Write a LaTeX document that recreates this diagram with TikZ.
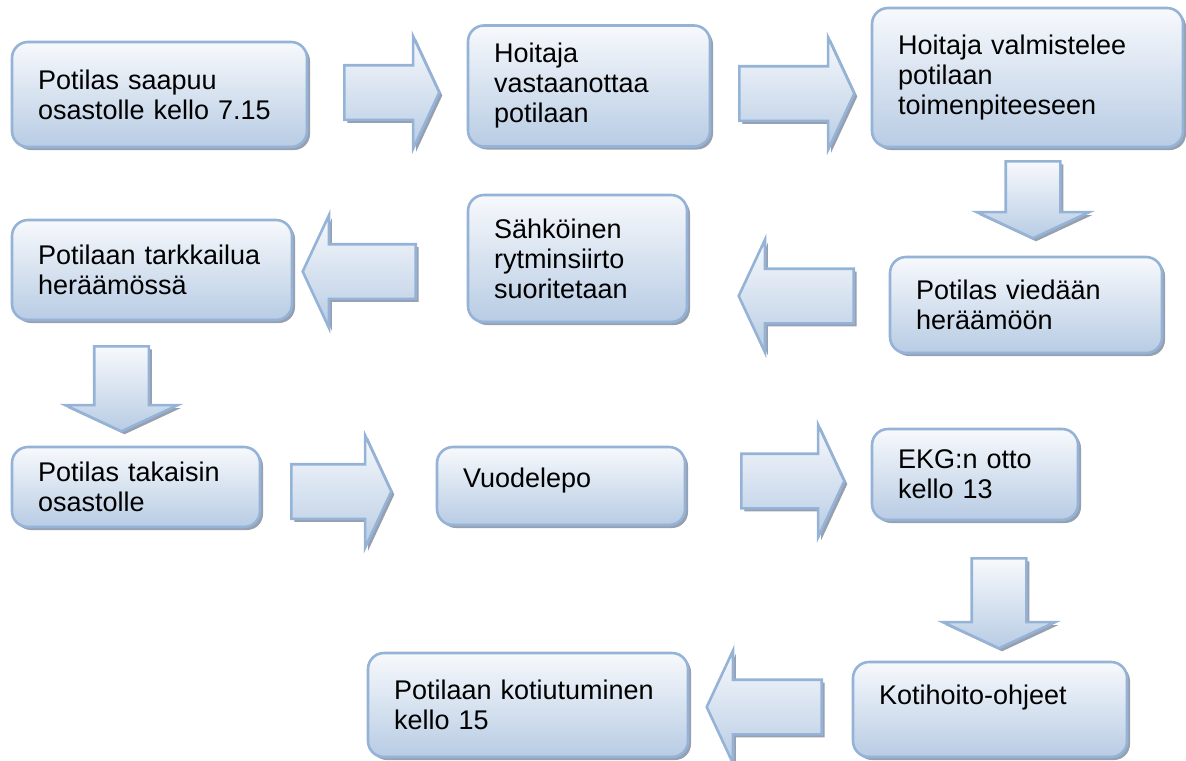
\documentclass[tikz,border=0pt]{standalone}
\usepackage{fontspec}
\setmainfont{Liberation Sans}
\usepackage{tikz}
\usetikzlibrary{shapes.arrows, shadows, positioning}
\definecolor{boxline}{RGB}{149,179,215}
\definecolor{boxtop}{RGB}{247,249,252}
\definecolor{boxbottom}{RGB}{184,204,228}
\definecolor{shadowgray}{RGB}{150,160,176}

\begin{document}
\begin{tikzpicture}[x=0.5pt, y=-0.5pt, boxnode/.style={rectangle, rounded corners=8pt, draw=boxline, line width=1.3pt, top color=boxtop, bottom color=boxbottom, drop shadow={shadow xshift=1.5pt, shadow yshift=-1.5pt, fill=shadowgray, opacity=1}, align=left, inner xsep=13pt, inner ysep=0pt, font=\fontsize{13.5}{15}\selectfont}, blockarrow/.style={single arrow, anchor=tail, draw=boxline, line width=1.3pt, top color=boxtop, bottom color=boxbottom, drop shadow={shadow xshift=1.5pt, shadow yshift=-1.5pt, fill=shadowgray, opacity=1}, inner sep=13pt, minimum width=55pt, single arrow head extend=14.5pt, single arrow tip angle=130}]
    \useasboundingbox (0,0) rectangle (1186,760);

    %Nodes
    \node[boxnode, text width=121.5pt, minimum height=52.5pt](start) at (159.5,94.5){Potilas saapuu\\osastolle kello 7.15};
    \node[boxnode, text width=95pt, minimum height=60.5pt](receive) at (589,86){Hoitaja\\vastaanottaa\\potilaan};
    \node[boxnode, text width=129.5pt, minimum height=69.5pt](prepare) at (1027.5,77.5){Hoitaja valmistelee\\potilaan\\toimenpiteeseen};
    \node[boxnode, text width=110pt, minimum height=48pt](recovery) at (1026,305){Potilas viedään\\heräämöön};
    \node[boxnode, text width=83.5pt, minimum height=63.5pt](cardioversion) at (577.5,258.5){Sähköinen\\rytminsiirto\\suoritetaan};
    \node[boxnode, text width=114pt, minimum height=50pt](observe) at (152,270){Potilaan tarkkailua\\heräämössä};
    \node[boxnode, text width=98pt, minimum height=40pt](back) at (136,487){Potilas takaisin\\osastolle};
    \node[boxnode, text width=98pt, minimum height=39pt](bedrest) at (561,486){Vuodelepo\\[-7pt]\mbox{}};
    \node[boxnode, text width=77pt, minimum height=45.5pt](ekg) at (975,474.5){EKG:n otto\\kello 13};
    \node[boxnode, text width=111pt, minimum height=47.5pt](homecare) at (990,709.5){Kotihoito-ohjeet\\\mbox{}};
    \node[boxnode, text width=134pt, minimum height=52pt](discharge) at (528,705){Potilaan kotiutuminen\\kello 15};

    %Arrows
    \node[blockarrow, minimum height=47.5pt](arr_1) at (343,92.5){};
    \node[blockarrow, minimum height=57.5pt](arr_2) at (738,93.5){};
    \node[blockarrow, minimum height=38.5pt, shape border rotate=270](arr_3) at (1033,160){};
    \node[blockarrow, minimum height=57.5pt, shape border rotate=180](arr_4) at (855,296){};
    \node[blockarrow, minimum height=56.5pt, shape border rotate=180](arr_5) at (417,271.5){};
    \node[blockarrow, minimum height=42.5pt, shape border rotate=270](arr_6) at (121.5,345){};
    \node[blockarrow, minimum height=50pt](arr_7) at (290,491.5){};
    \node[blockarrow, minimum height=51.5pt](arr_8) at (740,481){};
    \node[blockarrow, minimum height=45pt, shape border rotate=270](arr_9) at (999,557){};
    \node[blockarrow, minimum height=57.5pt, shape border rotate=180](arr_10) at (823,707){};

\end{tikzpicture}
\end{document}
